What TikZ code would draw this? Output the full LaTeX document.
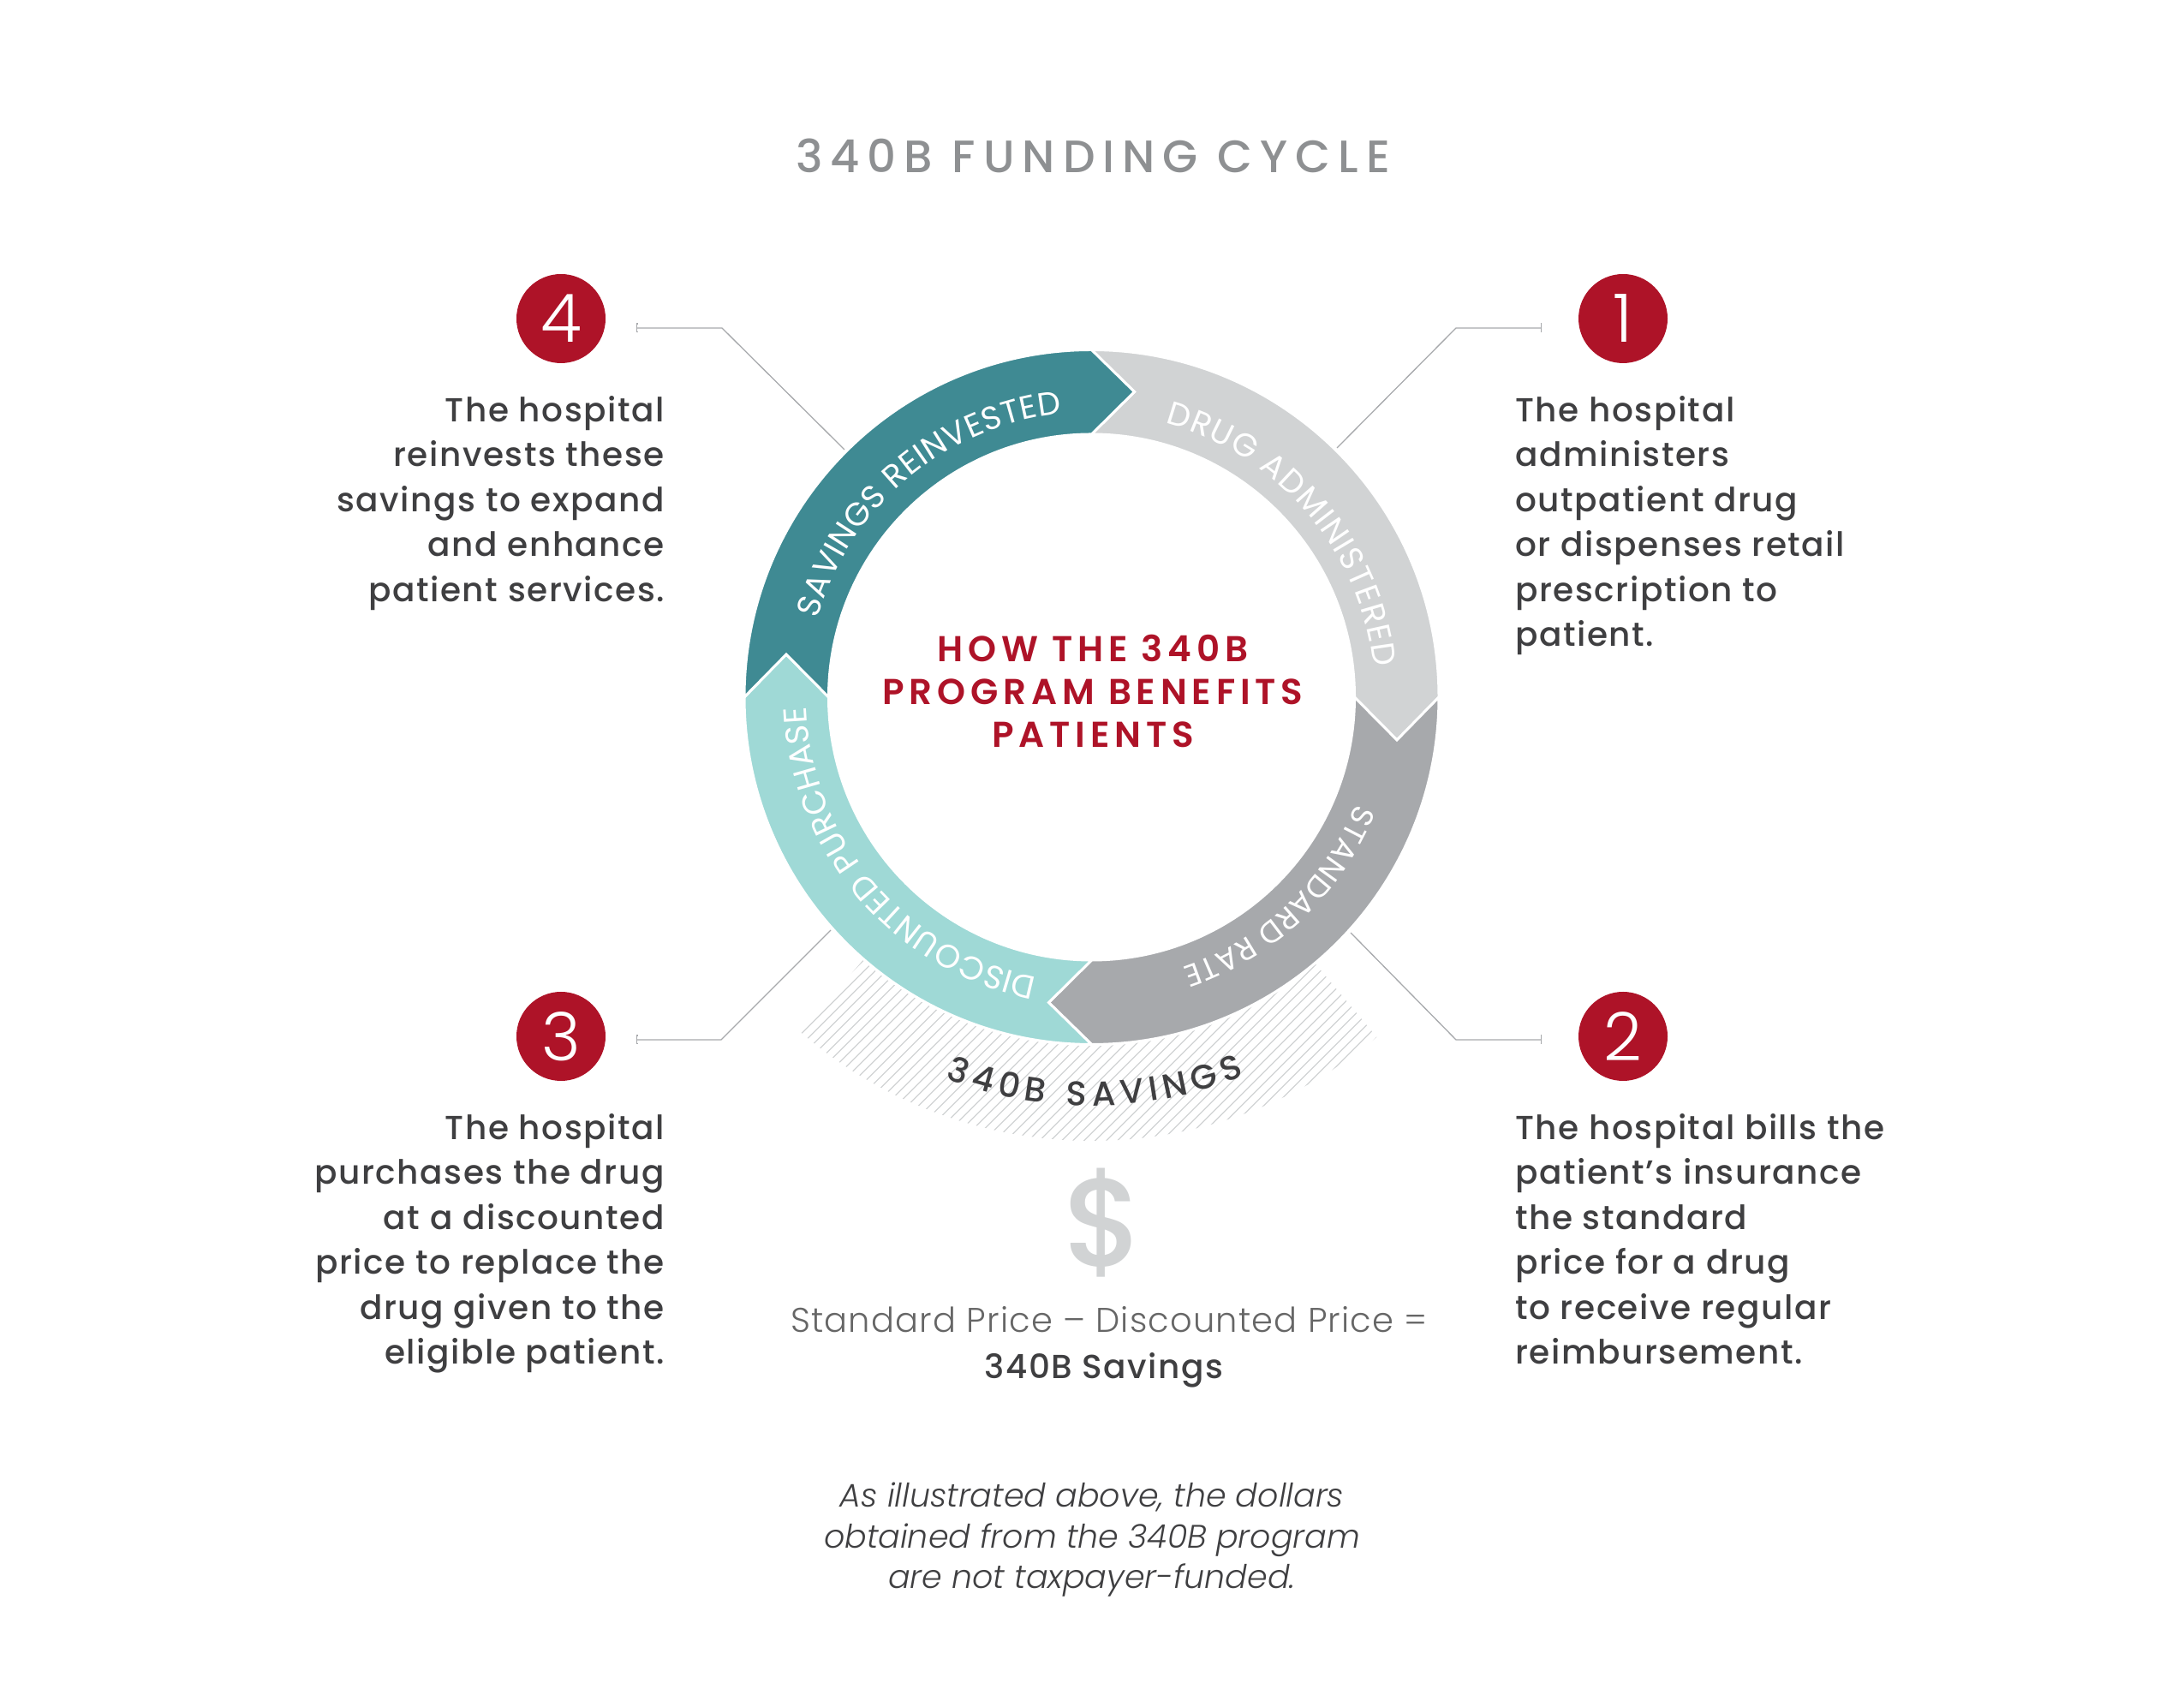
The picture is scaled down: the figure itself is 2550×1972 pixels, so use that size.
\documentclass[tikz,border=0pt]{standalone}
\usepackage{fontspec}
\setmainfont{Poppins}
\newfontfamily\bodyfont{Poppins Medium}[LetterSpace=4]
\newfontfamily\lightfont{Poppins Light}[ItalicFont={Poppins Light Italic}]
\newfontfamily\sumfont{Poppins Light}[LetterSpace=3]
\newfontfamily\headfont{Poppins SemiBold}[LetterSpace=14]
\newfontfamily\capsfont{Poppins Medium}[LetterSpace=17]
\usetikzlibrary{positioning,arrows.meta,decorations.text}
\definecolor{ringgray}{HTML}{D1D3D4}
\definecolor{ringdark}{HTML}{A7A9AC}
\definecolor{ringmint}{HTML}{9FD9D6}
\definecolor{ringteal}{HTML}{3F8A93}
\definecolor{hospred}{HTML}{AE1328}
\definecolor{bodygray}{HTML}{3F3F41}

\begin{document}
\begin{tikzpicture}[
  x=1pt, y=1pt,
  num/.style={circle, fill=hospred, text=white, minimum size=104pt, inner sep=0pt, font=\lightfont\fontsize{78}{78}\selectfont},
  bodyl/.style={anchor=north east, align=right, inner sep=0pt, text=bodygray, font=\bodyfont\fontsize{39}{52.5}\selectfont},
  bodyr/.style={anchor=north west, align=left, inner sep=0pt, text=bodygray, font=\bodyfont\fontsize{39}{52.5}\selectfont},
  seg/.style={draw=white, line width=3pt, line join=miter},
  lead/.style={draw=ringdark, line width=1.3pt, {Bar[width=11pt,length=1.5pt]}-},
  hatchline/.style={draw=ringgray, line width=1.2pt},
  lbl/.style={postaction={decorate}},
]
\useasboundingbox (0,0) rectangle (2550,1972);

% Title
\node[text=ringdark!85!black, font=\capsfont\fontsize{53}{53}\selectfont] (title) at (1276,1790) {340B FUNDING CYCLE};

% Hatched band under the ring
\begin{scope}[shift={(1274.5,1158)}]
  \clip (229:405) -- (229:518) arc[start angle=229, end angle=310, radius=518] -- (310:405) -- (0,0) -- cycle;
  \foreach \hx in {-1000,-987,...,600}
    \draw[hatchline] (\hx,-560) -- ++(400,400);
\end{scope}
\fill[white] (1274.5,1158) circle[radius=407];

% Ring
\begin{scope}[shift={(1274.5,1158)}]
  \foreach \rot/\col in {0/ringgray, -90/ringdark, -180/ringmint, -270/ringteal}
    \draw[seg, fill=\col, rotate=\rot] (90:405.5) arc[start angle=90, end angle=0, radius=405.5]
      -- (356.5,-50) -- (0:307) arc[start angle=0, end angle=90, radius=307] -- (50,356.5) -- cycle;

  \path[lbl, decoration={text along path, text color=white, text align={fit to path}, text={|\fontsize{38}{38}\selectfont|DRUG ADMINISTERED}}]
    (75:331) arc[start angle=75, end angle=6, radius=331];
  \path[lbl, decoration={text along path, text color=white, text align={fit to path}, text={|\fontsize{36}{36}\selectfont|STANDARD RATE}}]
    (-22:333) arc[start angle=-22, end angle=-71.5, radius=333];
  \path[lbl, decoration={text along path, text color=white, text align={fit to path}, text={|\fontsize{38}{38}\selectfont|DISCOUNTED PURCHASE}}]
    (-101:333) arc[start angle=-101, end angle=-178, radius=333];
  \path[lbl, decoration={text along path, text color=white, text align={fit to path}, text={|\fontsize{38}{38}\selectfont|SAVINGS REINVESTED}}]
    (164:333) arc[start angle=164, end angle=96, radius=333];

  % Curved label on the hatch
  \path[lbl, decoration={text along path, text color=bodygray, text align={fit to path}, text={|\bodyfont\fontsize{40}{40}\selectfont|340B SAVINGS}}]
    (249:477) arc[start angle=249, end angle=292, radius=477];
\end{scope}

% Centre
\node[align=center, text=hospred, font=\headfont\fontsize{42}{50}\selectfont] (centre) at (1276,1165) {HOW THE 340B\\PROGRAM BENEFITS\\PATIENTS};

% Numbers
\node[num] (n4) at (655,1600) {4};
\node[num] (n1) at (1895,1600) {1};
\node[num] (n3) at (655,762) {3};
\node[num] (n2) at (1895,762) {2};

% Leader lines
\coordinate (t4) at (743,1589);
\coordinate (t1) at (1800,1589);
\coordinate (t3) at (743,758);
\coordinate (t2) at (1800,758);
\draw[lead] (t4) -- (843,1589) -- (986,1447);
\draw[lead] (t1) -- (1700,1589) -- (1561,1449);
\draw[lead] (t3) -- (842,758) -- (970,886);
\draw[lead] (t2) -- (1700,758) -- (1577,883);

% Texts
\node[bodyl] (b4) at (776,1510) {The hospital\\reinvests these\\savings to expand\\and enhance\\patient services.};
\node[bodyr] (b1) at (1769,1510) {The hospital\\administers\\outpatient drug\\or dispenses retail\\prescription to\\patient.};
\node[bodyl] (b3) at (776,672) {The hospital\\purchases the drug\\at a discounted\\price to replace the\\drug given to the\\eligible patient.};
\node[bodyr] (b2) at (1769,672) {The hospital bills the\\patient’s insurance\\the standard\\price for a drug\\to receive regular\\reimbursement.};

% Savings sum
\node[text=ringgray, font=\bodyfont\fontsize{146}{146}\selectfont] (dollar) at (1289,544) {\$};
\node[text=black!60, font=\sumfont\fontsize{40}{40}\selectfont] (sum) at (1295,431) {Standard Price – Discounted Price =};
\node[text=bodygray, font=\bodyfont\fontsize{39}{39}\selectfont] (savings) at (1289,372) {340B Savings};

% Note
\node[align=center, text=bodygray, font=\lightfont\itshape\fontsize{38}{47.5}\selectfont] (note) at (1275,174) {As illustrated above, the dollars\\obtained from the 340B program\\are not taxpayer-funded.};
\end{tikzpicture}
\end{document}
